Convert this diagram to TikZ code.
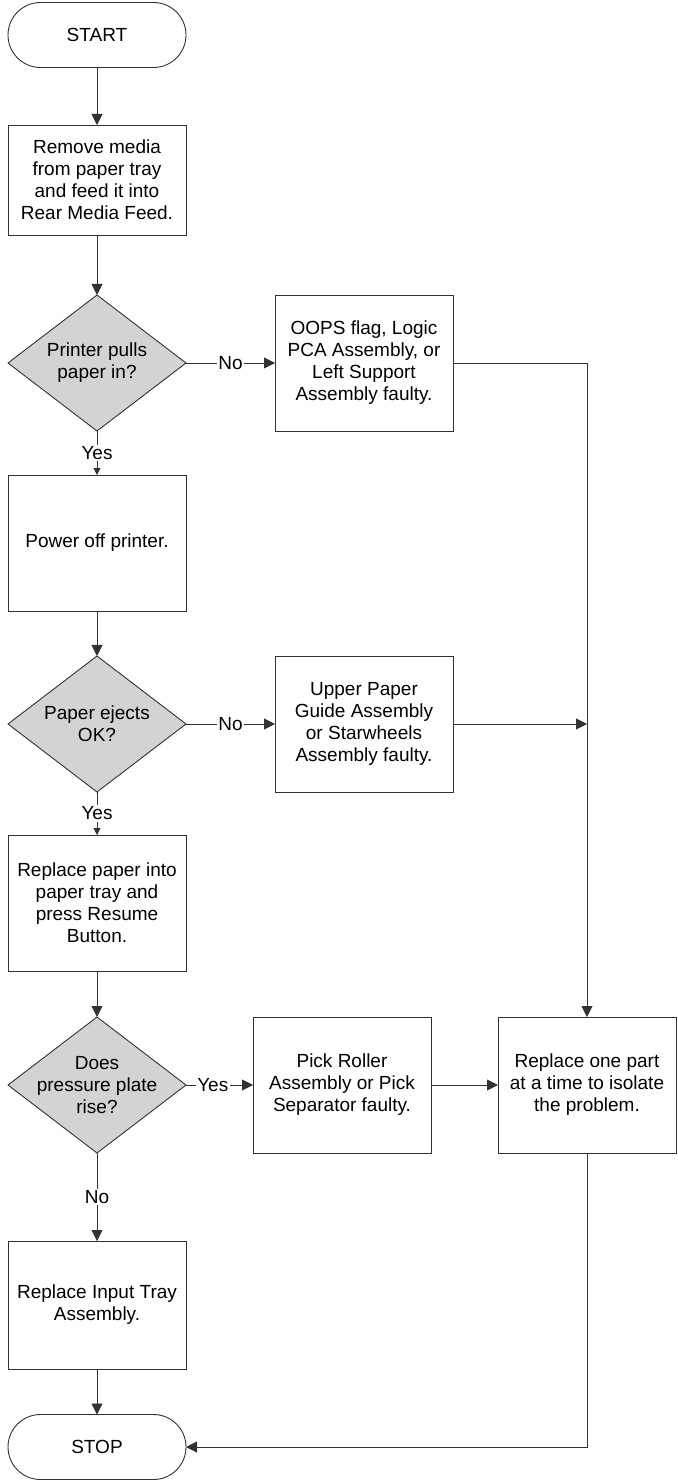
\documentclass[tikz,border=0pt]{standalone}
\usepackage{fontspec}
\setmainfont{Liberation Sans}
\usetikzlibrary{shapes.geometric,shapes.misc,arrows.meta}
\definecolor{dgray}{RGB}{211,211,211}
\definecolor{ln}{RGB}{50,50,50}
\begin{document}
\begin{tikzpicture}[x=1pt,y=-1pt,
  every node/.style={font=\fontsize{19}{22}\selectfont, text=black},
  box/.style={draw=ln, line width=0.9pt, rectangle, minimum width=178pt, inner sep=0pt, outer sep=0pt, align=center},
  dec/.style={draw=ln, line width=0.9pt, diamond, fill=dgray, minimum width=178pt, minimum height=136pt, inner sep=0pt, outer sep=0pt},
  term/.style={draw=ln, line width=0.9pt, rounded rectangle, minimum width=178pt, minimum height=65pt, inner sep=0pt, outer sep=0pt},
  arr/.style={draw=ln, line width=0.9pt, -{Triangle[length=11pt,width=11pt]}},
  sarr/.style={draw=ln, line width=0.9pt, -{Triangle[length=7pt,width=7pt]}},
  lbl/.style={fill=white, inner sep=1.5pt}
]
\useasboundingbox (0,0) rectangle (677,1482);
% left column
\node[term] (start) at (97,35) {START};
\node[box, minimum height=110pt] (b1) at (97,180) {Remove media\\from paper tray\\and feed it into\\Rear Media Feed.};
\node[dec, label={[align=center]center:Printer pulls\\paper in?}] (d1) at (97,363) {};
\node[box, minimum height=136pt] (b2) at (97,543) {Power off printer.};
\node[dec, label={[align=center]center:Paper ejects\\OK?}] (d2) at (97,724) {};
\node[box, minimum height=136pt] (b3) at (97,903) {Replace paper into\\paper tray and\\press Resume\\Button.};
\node[dec, label={[align=center]center:Does\\pressure plate\\rise?}] (d3) at (97,1085) {};
\node[box, minimum height=128pt] (b4) at (97,1305) {Replace Input Tray\\Assembly.};
\node[term] (stop) at (97,1447) {STOP};
% right column
\node[box, minimum height=136pt] (oops) at (364,363) {OOPS flag, Logic\\PCA Assembly, or\\Left Support\\Assembly faulty.};
\node[box, minimum height=136pt] (upg) at (364,724) {Upper Paper\\Guide Assembly\\or Starwheels\\Assembly faulty.};
\node[box, minimum height=136pt] (pick) at (342,1085) {Pick Roller\\Assembly or Pick\\Separator faulty.};
\node[box, minimum height=136pt] (rep) at (587,1085) {Replace one part\\at a time to isolate\\the problem.};
\coordinate (j2) at (rep.north |- upg.east);
% connectors
\draw[arr] (start) -- (b1);
\draw[arr] (b1) -- (d1);
\draw[sarr] (d1) -- node[lbl]{Yes} (b2);
\draw[arr] (d1) -- node[lbl]{No} (oops);
\draw[arr] (b2) -- (d2);
\draw[sarr] (d2) -- node[lbl]{Yes} (b3);
\draw[arr] (d2) -- node[lbl]{No} (upg);
\draw[arr] (b3) -- (d3);
\draw[arr] (d3) -- node[lbl,pos=0.4]{Yes} (pick);
\draw[arr] (d3) -- node[lbl]{No} (b4);
\draw[arr] (b4) -- (stop);
\draw[arr] (oops.east) -| (rep.north);
\draw[arr] (upg.east) -- (j2);
\draw[arr] (pick) -- (rep);
\draw[arr] (rep.south) |- (stop.east);
\end{tikzpicture}
\end{document}
